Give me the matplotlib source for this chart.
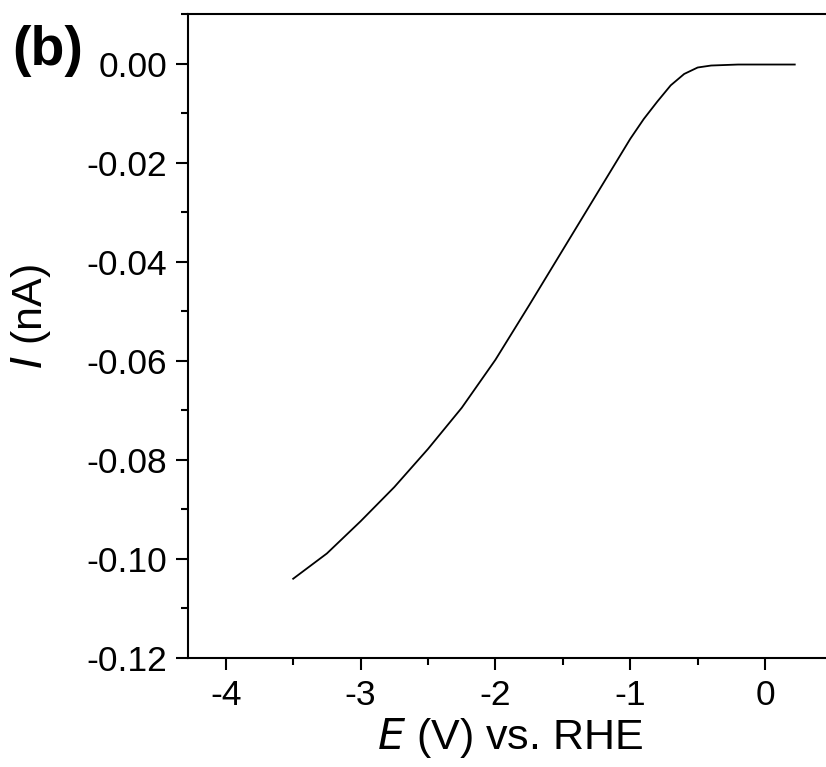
# -*- coding: utf-8 -*-
# LSV curve, panel (b)
import matplotlib
matplotlib.use('Agg')
import matplotlib.pyplot as plt
from matplotlib.ticker import MultipleLocator, FormatStrFormatter

plt.rcParams['font.family'] = ['Liberation Sans', 'DejaVu Sans']
plt.rcParams['mathtext.fontset'] = 'custom'

# potential (V vs. RHE) and current (nA)
potential = [-3.50, -3.25, -3.00, -2.75, -2.50, -2.25, -2.00, -1.75,
             -1.50, -1.25, -1.00, -0.90, -0.80, -0.70, -0.60, -0.50,
             -0.40, -0.20, 0.00, 0.22]
current = [-0.1040, -0.0989, -0.0924, -0.0855, -0.0778, -0.0695, -0.0598,
           -0.0488, -0.0376, -0.0264, -0.0152, -0.0112, -0.0077, -0.0044,
           -0.0021, -0.0008, -0.0004, -0.0002, -0.0002, -0.0002]

fig = plt.figure(figsize=(8.26, 7.67), dpi=100)
ax = fig.add_axes([188/826, 109/767, 658/826, 644/767])

ax.plot(potential, current, color='black', linewidth=1.3)

ax.set_xlim(-4.28, 0.6)
ax.set_ylim(-0.12, 0.01)

ax.xaxis.set_major_locator(MultipleLocator(1))
ax.xaxis.set_minor_locator(MultipleLocator(0.5))
ax.yaxis.set_major_locator(MultipleLocator(0.02))
ax.yaxis.set_minor_locator(MultipleLocator(0.01))
ax.yaxis.set_major_formatter(FormatStrFormatter('%.2f'))
ax.xaxis.set_major_formatter(FormatStrFormatter('%d'))

ax.tick_params(which='major', direction='out', length=8.5, width=1.5,
               labelsize=25.5, pad=6.5)
ax.tick_params(which='minor', direction='out', length=5, width=1.5)
ax.tick_params(top=False, right=False, which='both')
for sp in ax.spines.values():
    sp.set_linewidth(1.5)

ax.set_xlabel('$\\it{E}$ (V) vs. RHE', fontsize=31)
ax.set_ylabel('$\\it{I}$ (nA)', fontsize=31)
ax.xaxis.set_label_coords(0.49, -0.09)
ax.yaxis.set_label_coords(-0.205, 0.53)

fig.text(0.015, 0.933, '(b)', fontsize=40, fontweight='bold',
         ha='left', va='center')

fig.savefig('out.png', dpi=100)
